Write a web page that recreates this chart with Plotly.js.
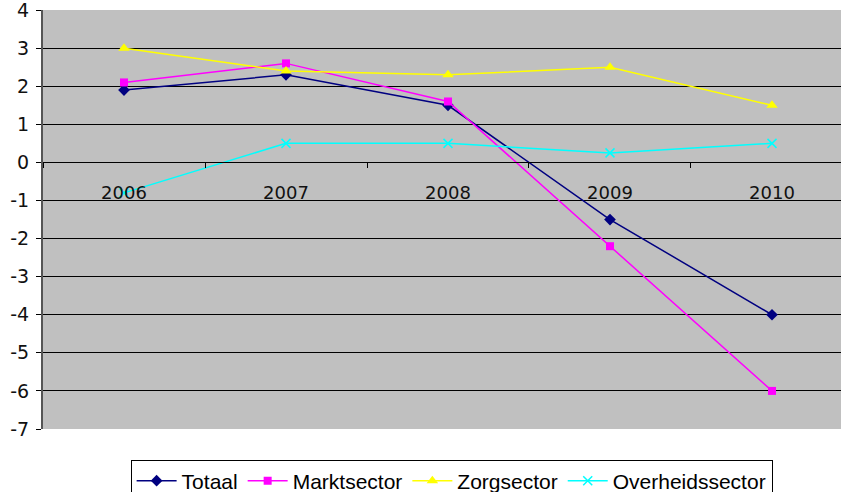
<!DOCTYPE html>
<html>
<head>
<meta charset="utf-8">
<script src="https://cdn.plot.ly/plotly-3.0.1.min.js"></script>
<style>html,body{margin:0;padding:0;background:#fff;}#chart{width:841px;height:492px;}</style>
</head>
<body>
<div id="chart"></div>
<script>
const years = ['2006', '2007', '2008', '2009', '2010'];
const totaal = [1.9, 2.3, 1.5, -1.5, -4.0];
const marktsector = [2.1, 2.6, 1.6, -2.2, -6.0];
const zorgsector = [3.0, 2.4, 2.3, 2.5, 1.5];
const overheidssector = [-0.8, 0.5, 0.5, 0.25, 0.5];
const yTickVals = [4, 3, 2, 1, 0, -1, -2, -3, -4, -5, -6, -7];
const yTickText = ['4', '3', '2', '1', '0', '-1', '-2', '-3', '-4', '-5', '-6', '-7'];

const traces = [
  {name: 'Totaal', x: years, y: totaal, type: 'scatter', mode: 'lines+markers',
   line: {color: '#000080', width: 1.5}, marker: {symbol: 'diamond', size: 9, color: '#000080'}},
  {name: 'Marktsector', x: years, y: marktsector, type: 'scatter', mode: 'lines+markers',
   line: {color: '#FF00FF', width: 1.5}, marker: {symbol: 'square', size: 8, color: '#FF00FF'}},
  {name: 'Zorgsector', x: years, y: zorgsector, type: 'scatter', mode: 'lines+markers',
   line: {color: '#FFFF00', width: 1.5}, marker: {symbol: 'triangle-up', size: 10, color: '#FFFF00'}},
  {name: 'Overheidssector', x: years, y: overheidssector, type: 'scatter', mode: 'lines+markers',
   line: {color: '#00FFFF', width: 1.5},
   marker: {symbol: 'x-thin-open', size: 9, color: '#00FFFF', line: {color: '#00FFFF', width: 1.5}}}
];

const layout = {
  width: 841, height: 492,
  margin: {l: 43, r: 0, t: 10, b: 63, autoexpand: false},
  paper_bgcolor: '#ffffff',
  plot_bgcolor: '#C0C0C0',
  font: {family: 'DejaVu Sans, Verdana, sans-serif', size: 17, color: '#000'},
  showlegend: true,
  legend: {
    orientation: 'h', x: 0.537, xanchor: 'center', xref: 'container',
    y: 0.066, yanchor: 'top', yref: 'container',
    bordercolor: '#000', borderwidth: 1, bgcolor: '#fff',
    font: {family: 'Liberation Sans, Arial, sans-serif', size: 21, color: '#000'},
    itemwidth: 40, tracegroupgap: 0
  },
  xaxis: {
    type: 'category', categoryorder: 'array', categoryarray: years,
    range: [-0.5, 4.426],
    anchor: 'free', position: 7 / 11,
    showgrid: false, zeroline: false,
    showline: true, linecolor: '#000', linewidth: 1,
    ticks: 'outside', tickson: 'boundaries', ticklen: 5, tickcolor: '#000', tickwidth: 1,
    ticklabelstandoff: 14,
    tickfont: {family: 'DejaVu Sans, Verdana, sans-serif', size: 18, color: '#111'},
    fixedrange: true
  },
  yaxis: {
    range: [-7, 4.002],
    tickmode: 'array', tickvals: yTickVals, ticktext: yTickText,
    ticklabeloverflow: 'allow',
    showgrid: true, gridcolor: '#000', gridwidth: 1,
    zeroline: true, zerolinecolor: '#000', zerolinewidth: 1,
    showline: true, linecolor: '#555', linewidth: 2,
    ticks: 'outside', ticklen: 5, tickcolor: '#000', tickwidth: 1,
    ticklabelstandoff: 3,
    tickfont: {family: 'DejaVu Sans, Verdana, sans-serif', size: 19, color: '#111'},
    fixedrange: true
  }
};

Plotly.newPlot('chart', traces, layout, {displayModeBar: false, staticPlot: true});
</script>
</body>
</html>
